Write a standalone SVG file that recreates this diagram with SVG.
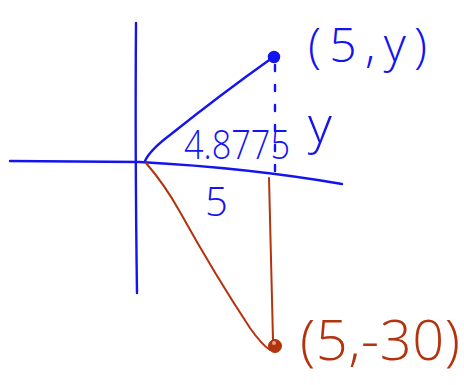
<svg xmlns="http://www.w3.org/2000/svg" width="464" height="385" viewBox="0 0 464 385">
<style>
.b{stroke:#1414f0;fill:none;stroke-width:2.4;stroke-linecap:round}
.r{stroke:#b3330f;fill:none;stroke-width:2;stroke-linecap:round}
.tb{fill:#1414f0;font-family:"Open Sans","DejaVu Sans",sans-serif;font-weight:300}
.tr{fill:#b3330f;font-family:"Open Sans","DejaVu Sans",sans-serif;font-weight:300}
</style>
<rect width="464" height="385" fill="#fff"/>
<g id="axes">
<path class="b" d="M136,23 Q135,150 137,293"/>
<path class="b" d="M10,161 L140,162 Q250,168 342,184"/>
</g>
<g id="connectors">
<path class="b" d="M145,161 Q150,150 170,135 Q220,95 272,58"/>
<path class="b" d="M275,65 L275,183" stroke-dasharray="6,14"/>
<path class="r" d="M146,163 Q165,185 180,212 Q215,275 250,328 Q262,345 270,350"/>
<path class="r" d="M269,178 Q271,260 273,340"/>
</g>
<g id="point-top">
<circle cx="274" cy="57" r="5.5" fill="#1414f0" stroke="#1414f0" stroke-width="1.5"/>
<text class="tb" x="308" y="62" font-size="48" textLength="119" lengthAdjust="spacing">(5,y)</text>
</g>
<g id="point-bottom">
<circle cx="275" cy="346" r="6.5" fill="#b3330f" stroke="#b3330f" stroke-width="1"/>
<circle cx="274" cy="343" r="2" fill="#e8a080"/>
<text class="tr" x="300" y="360" font-size="56" textLength="160" lengthAdjust="spacing">(5,-30)</text>
</g>
<g id="labels">
<text class="tb" x="184" y="159" font-size="40" textLength="106" lengthAdjust="spacingAndGlyphs">4.8775</text>
<text class="tb" x="308" y="143" font-size="52">y</text>
<text class="tb" x="205" y="216" font-size="40">5</text>
</g>
</svg>
